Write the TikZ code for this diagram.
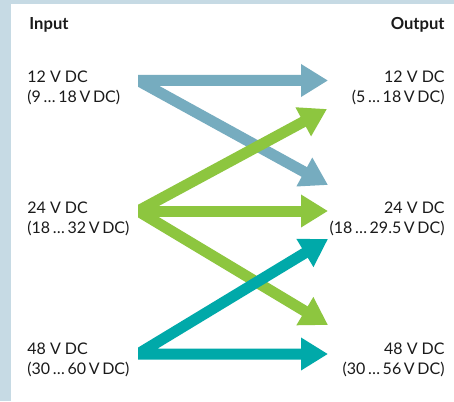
\documentclass[tikz,border=0pt]{standalone}
\usepackage{fontspec}
\setmainfont{Lato}
\usetikzlibrary{arrows.meta}
\definecolor{framebg}{HTML}{C6DAE4}
\definecolor{flowblue}{HTML}{76ACBF}
\definecolor{flowgreen}{HTML}{8DC63F}
\definecolor{flowteal}{HTML}{00A9A9}
\definecolor{txt}{HTML}{1A1A1A}
\tikzset{
  lbl/.style={font=\fontsize{8}{10.25}\selectfont, text=txt, inner sep=0pt},
  head/.style={lbl, font=\fontsize{8.3}{10.25}\selectfont\bfseries},
  flow/.style={line width=5.5pt, line join=miter, {Triangle[length=13.5pt,width=15.5pt]}-{Triangle[length=13.5pt,width=15.5pt]}},
  flowend/.style={line width=5.5pt, -{Triangle[length=13.5pt,width=15.5pt]}},
}

\begin{document}
\begin{tikzpicture}[x=0.5pt,y=-0.5pt]
\useasboundingbox (0,0) rectangle (454,401);
\fill[framebg] (0,0) rectangle (454,401);
\fill[white] (11,4) rectangle (454,401);

% headers
\node[head, anchor=west] (hin) at (29,25) {Input};
\node[head, anchor=east] (hout) at (445,25) {Output};

% input labels
\node[lbl, anchor=west, align=left] (lin12) at (27,88) {12 V DC\\(9\,…\,18\,V\,DC)};
\node[lbl, anchor=west, align=left] (lin24) at (27,219) {24 V DC\\(18\,…\,32\,V\,DC)};
\node[lbl, anchor=west, align=left] (lin48) at (27,360) {48 V DC\\(30\,…\,60\,V\,DC)};

% output labels
\node[lbl, anchor=east, align=right] (lout12) at (445,88) {12 V DC\\(5\,…\,18\,V\,DC)};
\node[lbl, anchor=east, align=right] (lout24) at (445,219) {24 V DC\\(18\,…\,29.5\,V\,DC)};
\node[lbl, anchor=east, align=right] (lout48) at (445,360) {48 V DC\\(30\,…\,56\,V\,DC)};

% arrow ends
\coordinate (i12) at (138,80.5);
\coordinate (i24) at (138,211);
\coordinate (i48) at (138,354);
\coordinate (o12) at (328,80.5);
\coordinate (o12b) at (327,109);
\coordinate (o24a) at (328,185);
\coordinate (o24) at (328,211);
\coordinate (o24b) at (328,239);
\coordinate (o48a) at (328,325);
\coordinate (o48) at (328,354);

\begin{scope}
\clip (138,0) rectangle (454,401);
\draw[flow, flowblue] (o12) -- (i12) -- (o24a);
\draw[flow, flowgreen] (o12b) -- (i24) -- (o48a);
\draw[flowend, flowgreen] (i24) -- (o24);
\draw[flow, flowteal] (o24b) -- (i48) -- (o48);
\end{scope}
\end{tikzpicture}
\end{document}
